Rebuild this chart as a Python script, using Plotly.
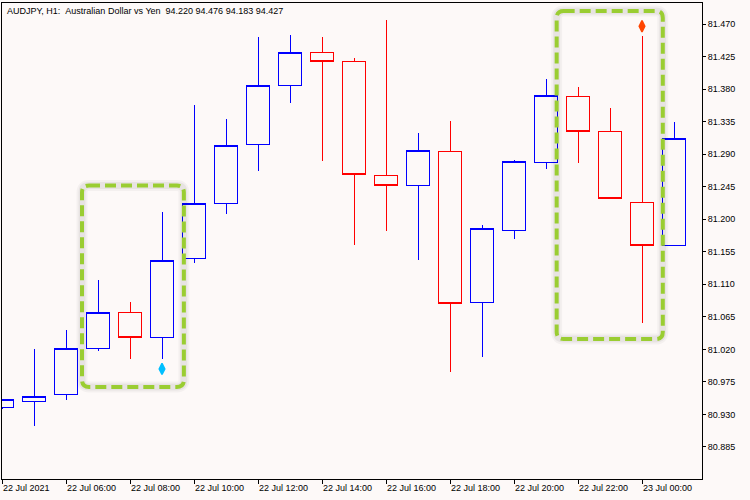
import pandas as pd
import plotly.graph_objects as go

# ---------------- data ----------------
bar_times = [
    "2021-07-22 04:00", "2021-07-22 05:00", "2021-07-22 06:00", "2021-07-22 07:00",
    "2021-07-22 08:00", "2021-07-22 09:00", "2021-07-22 10:00", "2021-07-22 11:00",
    "2021-07-22 12:00", "2021-07-22 13:00", "2021-07-22 14:00", "2021-07-22 15:00",
    "2021-07-22 16:00", "2021-07-22 17:00", "2021-07-22 18:00", "2021-07-22 19:00",
    "2021-07-22 20:00", "2021-07-22 21:00", "2021-07-22 22:00", "2021-07-22 23:00",
    "2021-07-23 00:00", "2021-07-23 01:00",
]
opens  = [80.939, 80.948, 80.958, 81.021, 81.071, 81.037, 81.145, 81.222, 81.304, 81.385, 81.430,
          81.418, 81.261, 81.246, 81.294, 81.085, 81.185, 81.279, 81.370, 81.322, 81.223, 81.163]
highs  = [80.950, 81.021, 81.047, 81.116, 81.086, 81.210, 81.358, 81.339, 81.452, 81.455, 81.452,
          81.423, 81.476, 81.319, 81.336, 81.192, 81.282, 81.394, 81.383, 81.354, 81.453, 81.335]
lows   = [80.938, 80.914, 80.950, 81.018, 81.007, 81.007, 81.139, 81.207, 81.267, 81.361, 81.280,
          81.165, 81.184, 81.143, 80.989, 81.010, 81.173, 81.269, 81.278, 81.228, 81.057, 81.163]
closes = [80.950, 80.955, 81.021, 81.071, 81.037, 81.143, 81.222, 81.302, 81.385, 81.430, 81.418,
          81.262, 81.246, 81.295, 81.084, 81.187, 81.280, 81.371, 81.322, 81.228, 81.163, 81.312]

signal_times  = ["2021-07-22 09:00", "2021-07-23 00:00"]
signal_prices = [80.993, 81.467]
signal_colors = ["#00BFFF", "#FF4500"]

# highlight boxes: (start time, end time, low price, high price)
highlight_boxes = [
    ("2021-07-22 06:30", "2021-07-22 09:41", 80.968, 81.2466),
    ("2021-07-22 21:20", "2021-07-23 00:39", 81.0343, 81.488),
]

x_tick_times = ["2021-07-22 04:00", "2021-07-22 06:00", "2021-07-22 08:00", "2021-07-22 10:00",
                "2021-07-22 12:00", "2021-07-22 14:00", "2021-07-22 16:00", "2021-07-22 18:00",
                "2021-07-22 20:00", "2021-07-22 22:00", "2021-07-23 00:00"]
x_tick_labels = ["22 Jul 2021", "22 Jul 06:00", "22 Jul 08:00", "22 Jul 10:00", "22 Jul 12:00",
                 "22 Jul 14:00", "22 Jul 16:00", "22 Jul 18:00", "22 Jul 20:00", "22 Jul 22:00",
                 "23 Jul 00:00"]
y_tick_values = [81.470, 81.425, 81.380, 81.335, 81.290, 81.245, 81.200, 81.155,
                 81.110, 81.065, 81.020, 80.975, 80.930, 80.885]
y_tick_labels = ["81.470", "81.425", "81.380", "81.335", "81.290", "81.245", "81.200", "81.155",
                 "81.110", "81.065", "81.020", "80.975", "80.930", "80.885"]

title_text = "AUDJPY, H1:  Australian Dollar vs Yen  94.220 94.476 94.183 94.427"

# ---------------- helpers ----------------
t0 = pd.Timestamp(bar_times[0])


def hours(t):
    return (pd.Timestamp(t) - t0) / pd.Timedelta(hours=1)


x_bars = [hours(t) for t in bar_times]
x_signals = [hours(t) for t in signal_times]
x_ticks = [hours(t) for t in x_tick_times]

BG = "#FDF9F8"
FONT = "Liberation Sans"

W, H = 750, 500
ML, MR, MT, MB = 2, 48, 3, 21
plot_w = W - ML - MR
plot_h = H - MT - MB
x_range = [0, plot_w / 32.0]
y_range = [80.8407, 80.8407 + plot_h / 723.0]
px_x = (x_range[1] - x_range[0]) / plot_w
px_y = (y_range[1] - y_range[0]) / plot_h


def rounded_path(x0, x1, y0, y1, r=7):
    rx, ry = r * px_x, r * px_y
    return (f"M{x0 + rx},{y1} L{x1 - rx},{y1} Q{x1},{y1} {x1},{y1 - ry} "
            f"L{x1},{y0 + ry} Q{x1},{y0} {x1 - rx},{y0} L{x0 + rx},{y0} "
            f"Q{x0},{y0} {x0},{y0 + ry} L{x0},{y1 - ry} Q{x0},{y1} {x0 + rx},{y1} Z")


fig = go.Figure()
fig.add_trace(go.Candlestick(
    x=x_bars, open=opens, high=highs, low=lows, close=closes,
    increasing=dict(line=dict(color="#0000FF", width=1), fillcolor=BG),
    decreasing=dict(line=dict(color="#FF0000", width=1), fillcolor=BG),
    whiskerwidth=0, showlegend=False, hoverinfo="skip",
))
fig.add_trace(go.Scatter(
    x=x_signals, y=signal_prices, mode="markers", showlegend=False, hoverinfo="skip",
    marker=dict(symbol="diamond-tall", size=8, color=signal_colors,
                line=dict(color=signal_colors, width=1.5)),
))

shapes = []
for (ta, tb, lo, hi) in highlight_boxes:
    p = rounded_path(hours(ta), hours(tb), lo, hi)
    shapes.append(dict(type="path", path=p, xref="x", yref="y", layer="above",
                       line=dict(color="rgba(0,0,0,0.035)", width=11)))
    shapes.append(dict(type="path", path=p, xref="x", yref="y", layer="above",
                       line=dict(color="rgba(0,0,0,0.05)", width=7)))
    shapes.append(dict(type="path", path=p, xref="x", yref="y", layer="above",
                       line=dict(color="#9ACD32", width=4, dash="11px,5px")))

fig.update_layout(
    width=W, height=H,
    margin=dict(l=ML, r=MR, t=MT, b=MB, pad=0, autoexpand=False),
    paper_bgcolor=BG, plot_bgcolor=BG,
    font=dict(family=FONT, size=9, color="#000000"),
    shapes=shapes,
    boxgap=0.29, boxgroupgap=0,
    annotations=[dict(text=title_text.replace(" ", "\u00a0"), xref="paper", yref="paper",
                      x=0, y=1, xanchor="left", yanchor="top", xshift=3, yshift=-1,
                      showarrow=False, font=dict(family=FONT, size=9, color="#000000"))],
    xaxis=dict(range=x_range, showgrid=False, zeroline=False, showline=True, mirror=True,
               linecolor="#000000", linewidth=1, ticks="outside", ticklen=4, tickcolor="#000000",
               tickvals=x_ticks, ticktext=x_tick_labels, ticklabelposition="outside right",
               rangeslider=dict(visible=False), fixedrange=True, automargin=False),
    yaxis=dict(range=y_range, side="right", showgrid=False, zeroline=False, showline=True,
               mirror=True, linecolor="#000000", linewidth=1, ticks="outside", ticklen=3,
               tickcolor="#000000", tickvals=y_tick_values, ticktext=y_tick_labels,
               fixedrange=True, automargin=False),
)

fig.write_html(
    "out.html", config={"displayModeBar": False},
    post_script=("document.body.style.margin='0px';document.body.style.overflow='hidden';"
                 "document.head.insertAdjacentHTML('beforeend',"
                 "'<style>.boxlayer path{shape-rendering:crispEdges}</style>');"),
)
